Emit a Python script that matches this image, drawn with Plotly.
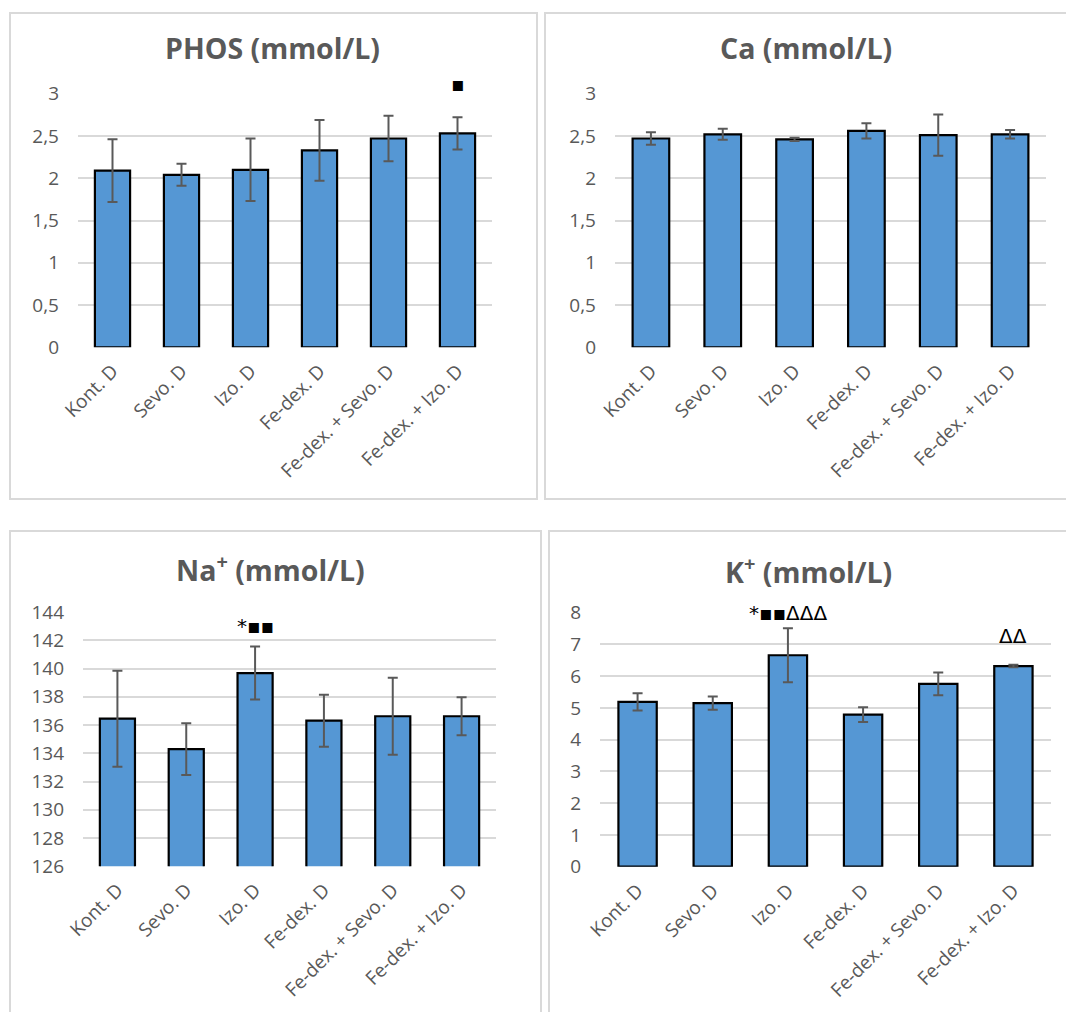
import plotly.graph_objects as go

categories = ["Kont. D", "Sevo. D", "Izo. D", "Fe-dex. D", "Fe-dex. + Sevo. D", "Fe-dex. + Izo. D"]

phos_values = [2.09, 2.04, 2.10, 2.33, 2.47, 2.53]
phos_errors = [0.37, 0.13, 0.37, 0.36, 0.27, 0.19]

ca_values = [2.47, 2.52, 2.46, 2.56, 2.51, 2.52]
ca_errors = [0.075, 0.065, 0.02, 0.09, 0.245, 0.05]

na_values = [136.45, 134.3, 139.68, 136.31, 136.62, 136.62]
na_errors = [3.4, 1.83, 1.87, 1.84, 2.73, 1.35]

k_values = [5.19, 5.15, 6.66, 4.79, 5.76, 6.32]
k_errors = [0.27, 0.21, 0.85, 0.23, 0.36, 0.04]

titles = ["PHOS (mmol/L)", "Ca (mmol/L)", "Na<sup>+</sup> (mmol/L)", "K<sup>+</sup> (mmol/L)"]

# significance marks: (panel index, category, label, y position in data units)
marks_panel = [0, 2, 3, 3]
marks_cat = ["Fe-dex. + Izo. D", "Izo. D", "Izo. D", "Fe-dex. + Izo. D"]
marks_text = ["▪", "*▪▪", "*▪▪ΔΔΔ", "ΔΔ"]
marks_y = [3.11, 143.0, 8.0, 7.28]

OFF = 8  # page body margin
W, H = 1074 - OFF, 1012 - OFF
GRAY = "#595959"
GRID = "#D9D9D9"
BAR = "#5597D4"
FONT = "Open Sans"


def px(x):
    return (x - OFF) / W


def py(y):
    return 1 - (y - OFF) / H


# plot-area boxes in page pixels: x0, x1, ytop, ybottom
areas = [(78, 492, 93.7, 347.3), (615, 1046, 93.7, 347.3),
         (83, 496, 612, 866.3), (600, 1051, 612.7, 866.7)]
ranges = [[0, 3], [0, 3], [126, 144], [0, 8]]
dticks = [0.5, 0.5, 2, 1]
title_pos = [(272, 48), (806, 48), (270, 568), (808, 570)]
panels = [(10, 13, 537, 499), (545, 13, 1090, 499), (10, 531, 541, 1030), (549, 531, 1090, 1030)]

data_sets = [(phos_values, phos_errors), (ca_values, ca_errors),
             (na_values, na_errors), (k_values, k_errors)]

fig = go.Figure()
layout = dict(width=W, height=H, margin=dict(l=0, r=0, t=0, b=0, autoexpand=False),
              paper_bgcolor="white", plot_bgcolor="white", showlegend=False,
              separators=",.", font=dict(family=FONT, color=GRAY),
              bargap=0.49)

annotations = []
shapes = []
for i, ((vals, errs), (x0, x1, yt, yb)) in enumerate(zip(data_sets, areas)):
    n = "" if i == 0 else str(i + 1)
    xa, ya = "x" + n, "y" + n
    fig.add_trace(go.Bar(
        x=categories, y=vals, xaxis=xa, yaxis=ya,
        marker=dict(color=BAR, line=dict(color="black", width=2.2)),
        error_y=dict(type="data", array=errs, visible=True, color=GRAY, thickness=2, width=5),
    ))
    layout["xaxis" + n] = dict(
        domain=[px(x0), px(x1)], anchor=ya, tickangle=-45, automargin=False,
        tickfont=dict(size=19, color=GRAY, family=FONT), showgrid=False,
        showline=False, ticks="", ticklabelstandoff=8, fixedrange=True)
    layout["yaxis" + n] = dict(
        domain=[py(yb), py(yt)], anchor=xa, range=ranges[i], dtick=dticks[i],
        tick0=ranges[i][0], showgrid=True, gridcolor=GRID, gridwidth=1.5,
        zeroline=False, showline=False, ticks="", ticklabelstandoff=18, automargin=False,
        tickfont=dict(size=19, color=GRAY, family=FONT), fixedrange=True)
    tx, ty = title_pos[i]
    annotations.append(dict(text="<b>" + titles[i] + "</b>", x=px(tx), y=py(ty),
                            xref="paper", yref="paper", showarrow=False,
                            xanchor="center", yanchor="middle",
                            font=dict(size=28.5, color=GRAY, family=FONT)))
    bx0, by0, bx1, by1 = panels[i]
    shapes.append(dict(type="rect", xref="paper", yref="paper",
                       x0=px(bx0), x1=px(bx1), y0=py(by1), y1=py(by0),
                       line=dict(color=GRID, width=2), fillcolor="rgba(0,0,0,0)", layer="below"))

for p, c, t, yv in zip(marks_panel, marks_cat, marks_text, marks_y):
    n = "" if p == 0 else str(p + 1)
    r0, r1 = ranges[p]
    annotations.append(dict(text=t, x=c, y=(yv - r0) / (r1 - r0), xref="x" + n, yref="y" + n + " domain",
                            showarrow=False, yanchor="middle", xanchor="center",
                            font=dict(size=20, color="black", family="DejaVu Sans")))

layout["annotations"] = annotations
layout["shapes"] = shapes
fig.update_layout(**layout)
fig.write_html("out.html")
